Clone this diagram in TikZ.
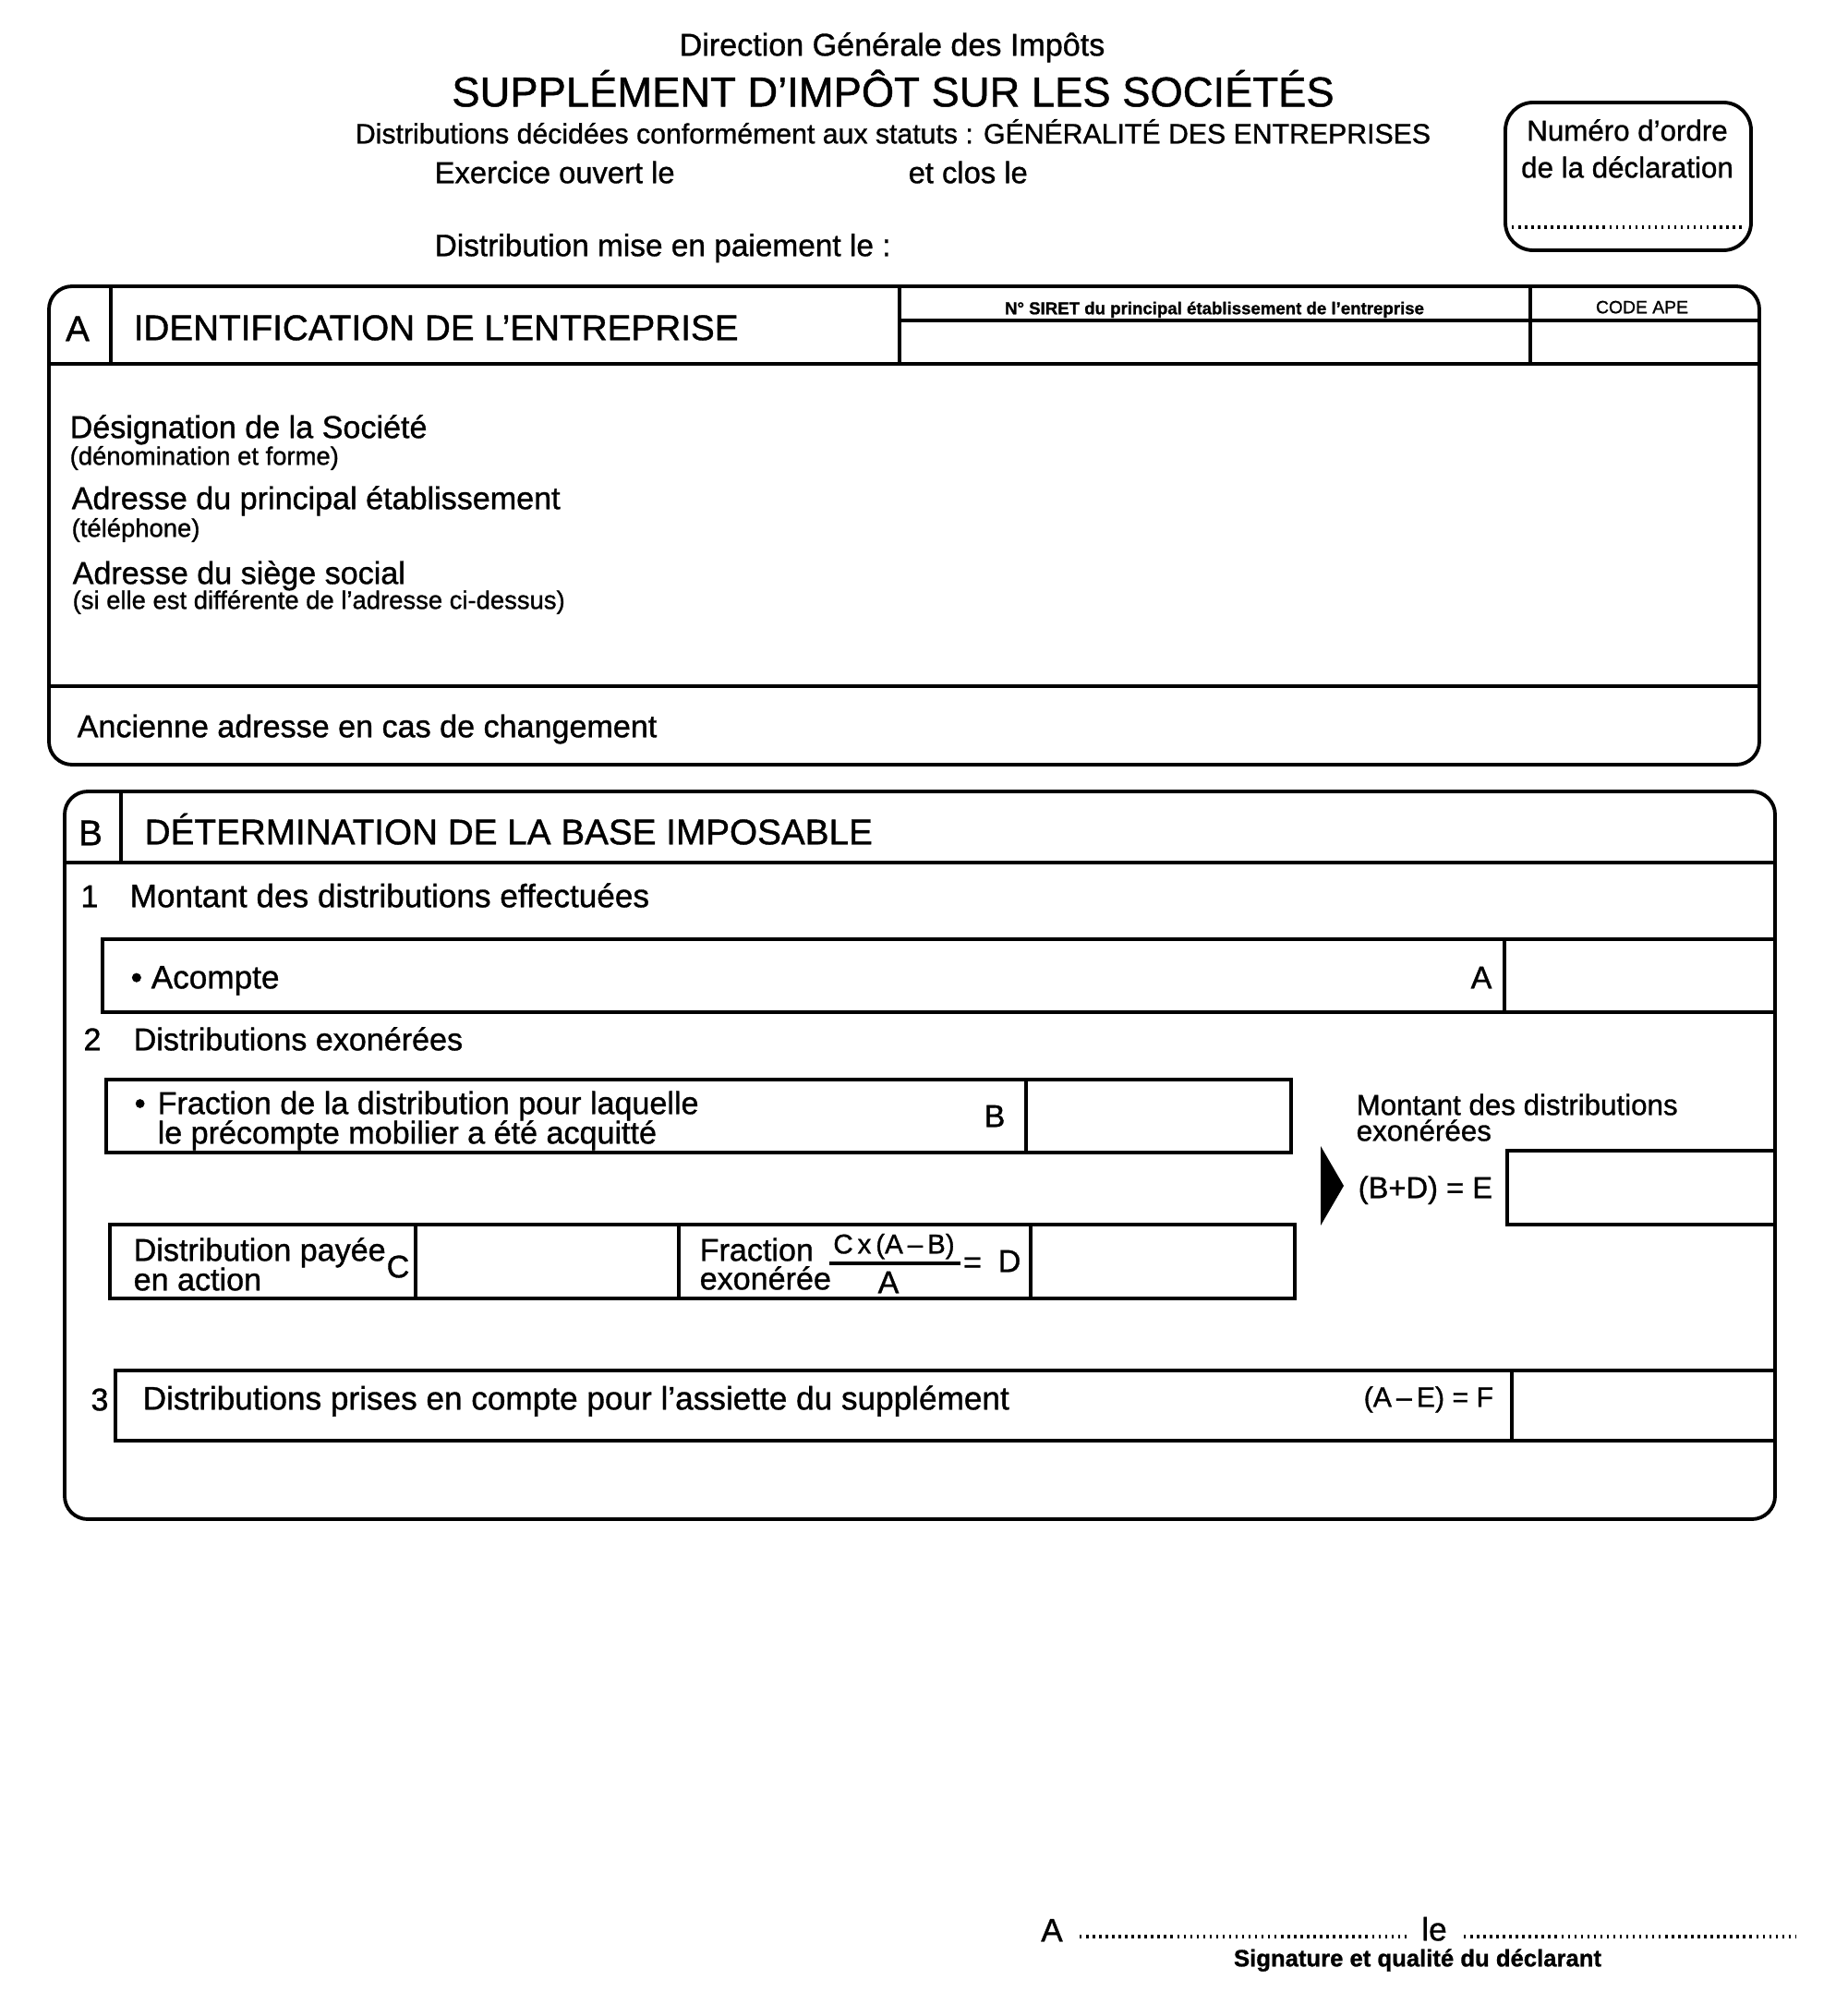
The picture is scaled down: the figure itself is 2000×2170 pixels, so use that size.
\documentclass[tikz,border=0pt]{standalone}
\usepackage{fontspec}
\setmainfont{Liberation Sans}[FakeBold=1.0]
\newcommand\fsz[1]{\fontsize{#1pt}{#1pt}\selectfont}
\begin{document}
\begin{tikzpicture}[x=0.01cm, y=-0.01cm,
  lbl/.style={inner sep=0pt, anchor=mid west},
  ctr/.style={inner sep=0pt, anchor=mid},
  frame/.style={line width=1.1pt, rounded corners=0.25cm},
  rule/.style={line width=0.9pt},
  dots/.style={line width=0.9pt, dash pattern=on 0.7pt off 1.3pt},
  body/.style={font=\fsz{9.7}},
  sub/.style={font=\fsz{7.8}},
  head/.style={font=\fsz{11}}]
\useasboundingbox (0,0) rectangle (2000,2170);

% ---------- header ----------
\node[ctr, body] (dgi) at (966,51) {Direction Générale des Impôts};
\node[ctr, font=\fsz{12.9}] (title) at (967,106) {SUPPLÉMENT D’IMPÔT SUR LES SOCIÉTÉS};
\node[ctr, font=\fsz{8.6}] (statuts) at (967,146) {Distributions décidées conformément aux statuts : GÉNÉRALITÉ DES ENTREPRISES};
\node[lbl, font=\fsz{9.3}] (ouvert) at (470,189) {Exercice ouvert le};
\node[lbl, font=\fsz{9.3}] (clos) at (983,189) {et clos le};
\node[lbl, font=\fsz{9.5}] (paiement) at (470,268) {Distribution mise en paiement le :};

% numero box
\draw[frame, rounded corners=0.3cm] (1630,111) rectangle (1896,271);
\node[ctr, font=\fsz{8.9}] (num1) at (1762,143) {Numéro d’ordre};
\node[ctr, font=\fsz{8.9}] (num2) at (1762,183) {de la déclaration};
\draw[dots] (1637,246) -- (1889,246);

% ---------- section A ----------
\draw[frame] (53,310) rectangle (1905,828);
\draw[rule] (120,310) -- (120,394);
\draw[rule] (974,310) -- (974,394);
\draw[rule] (1657,310) -- (1657,394);
\draw[rule] (974,347) -- (1905,347);
\draw[rule] (53,394) -- (1905,394);
\draw[rule] (53,743) -- (1905,743);
\node[ctr, head] (lA) at (84,360) {A};
\node[lbl, head] (identA) at (144,359) {IDENTIFICATION DE L’ENTREPRISE};
\node[ctr, font=\bfseries\fsz{5.3}] (siret) at (1315,331) {N° SIRET du principal établissement de l’entreprise};
\node[ctr, font=\fsz{5.5}] (ape) at (1778,330) {CODE APE};
\node[lbl, body] (desig) at (75,465) {Désignation de la Société};
\node[lbl, sub] (desig2) at (75,494) {(dénomination et forme)};
\node[lbl, body] (adr) at (77,542) {Adresse du principal établissement};
\node[lbl, sub] (adr2) at (77,572) {(téléphone)};
\node[lbl, body] (siege) at (78,623) {Adresse du siège social};
\node[lbl, sub] (siege2) at (78,650) {(si elle est différente de l’adresse ci-dessus)};
\node[lbl, body] (anc) at (83,789) {Ancienne adresse en cas de changement};

% ---------- section B ----------
\draw[frame] (70,857) rectangle (1922,1645);
\draw[rule] (131,857) -- (131,934);
\draw[rule] (70,934) -- (1922,934);
\node[ctr, head] (lB) at (98,906) {B};
\node[lbl, head] (detB) at (156,905) {DÉTERMINATION DE LA BASE IMPOSABLE};

\node[ctr, body] (n1) at (97,973) {1};
\node[lbl, font=\fsz{10}] (montant) at (140,973) {Montant des distributions effectuées};
\draw[rule] (111,1017) rectangle (1922,1096);
\draw[rule] (1629,1017) -- (1629,1096);
\node[lbl, font=\fsz{10}] (acompte) at (141,1061) {• Acompte};
\node[ctr, body] (lA2) at (1604,1061) {A};

\node[ctr, body] (n2) at (100,1128) {2};
\node[lbl, body] (exon) at (144,1128) {Distributions exonérées};

\draw[rule] (115,1169) rectangle (1398,1248);
\draw[rule] (1111,1169) -- (1111,1248);
\node[lbl, font=\fsz{9.7}] (bul) at (145,1197) {•};
\node[lbl, font=\fsz{9.7}] (frac1) at (170,1197) {Fraction de la distribution pour laquelle};
\node[lbl, font=\fsz{9.7}] (frac2) at (170,1229) {le précompte mobilier a été acquitté};
\node[ctr, body] (lB2) at (1077,1211) {B};

\node[lbl, font=\fsz{8.9}] (mde1) at (1468,1198) {Montant des distributions};
\node[lbl, font=\fsz{8.9}] (mde2) at (1468,1226) {exonérées};
\fill (1430,1241) -- (1455,1284) -- (1430,1327) -- cycle;
\node[lbl, font=\fsz{9.3}] (bde) at (1470,1288) {(B+D) = E};
\draw[rule] (1632,1246) rectangle (1922,1326);

\draw[rule] (119,1326) rectangle (1402,1406);
\draw[rule] (450,1326) -- (450,1406);
\draw[rule] (735,1326) -- (735,1406);
\draw[rule] (1116,1326) -- (1116,1406);
\node[lbl, body] (payee) at (144,1356) {Distribution payée};
\node[lbl, body] (action) at (144,1388) {en action};
\node[ctr, body] (lC) at (431,1374) {C};
\node[lbl, body] (fracx) at (757,1356) {Fraction};
\node[lbl, body] (exo2) at (757,1387) {exonérée};
\node[ctr, font=\fsz{8.4}] (numer) at (968,1348) {C\,x\,(A\,–\,B)};
\draw[rule] (898,1368) -- (1040,1368);
\node[ctr, body] (denom) at (962,1391) {A};
\node[ctr, body] (eqD) at (1053,1369) {=};
\node[ctr, body] (lD) at (1093,1368) {D};

\node[ctr, body] (n3) at (108,1518) {3};
\draw[rule] (125,1484) rectangle (1922,1560);
\draw[rule] (1637,1484) -- (1637,1560);
\node[lbl, font=\fsz{10}] (prises) at (154,1517) {Distributions prises en compte pour l’assiette du supplément};
\node[lbl, font=\fsz{8.6}] (aef) at (1476,1514) {(A\,–\,E) = F};

% ---------- signature ----------
\node[ctr, font=\fsz{10}] (sigA) at (1139,2093) {A};
\draw[dots] (1169,2097) -- (1527,2097);
\node[ctr, font=\fsz{10}] (sigle) at (1553,2092) {le};
\draw[dots] (1585,2097) -- (1945,2097);
\node[ctr, font=\bfseries\fsz{7.3}] (sig) at (1535,2120) {Signature et qualité du déclarant};
\end{tikzpicture}
\end{document}
